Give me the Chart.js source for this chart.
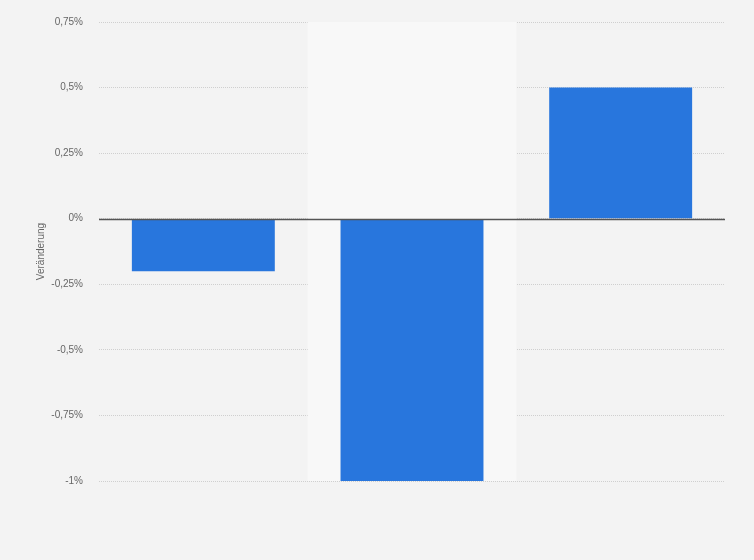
<!DOCTYPE html>
<html>
<head>
<meta charset="utf-8">
<script src="https://cdn.jsdelivr.net/npm/chart.js@4"></script>
<style>
  html, body { margin: 0; padding: 0; background: #f3f3f3; }
  #wrap { width: 754px; height: 560px; }
</style>
</head>
<body>
<div id="wrap"><canvas id="chart"></canvas></div>
<script>
const categories = ['A', 'B', 'C'];
const changes = [-0.2, -1, 0.5];
const yTicks = [0.75, 0.5, 0.25, 0, -0.25, -0.5, -0.75, -1];

function fmtPct(v) {
  return String(v).replace('.', ',') + '%';
}

// light band behind the middle category
const bandPlugin = {
  id: 'band',
  beforeDatasetsDraw(chart) {
    const { ctx, chartArea, scales } = chart;
    const x = scales.x;
    const w = (chartArea.right - chartArea.left) / categories.length;
    const cx = x.getPixelForValue(1);
    ctx.save();
    ctx.fillStyle = '#f8f8f8';
    ctx.fillRect(cx - w / 2, chartArea.top, w, chartArea.bottom - chartArea.top);
    ctx.restore();
  }
};

// solid zero line over the dotted grid
const zeroPlugin = {
  id: 'zero',
  afterDatasetsDraw(chart) {
    const { ctx, chartArea, scales } = chart;
    const y = Math.round(scales.y.getPixelForValue(0)) + 0.5;
    ctx.save();
    ctx.strokeStyle = '#555';
    ctx.lineWidth = 1.3;
    ctx.beginPath();
    ctx.moveTo(chartArea.left, y);
    ctx.lineTo(chartArea.right, y);
    ctx.stroke();
    ctx.restore();
  }
};

new Chart(document.getElementById('chart'), {
  type: 'bar',
  data: {
    labels: categories,
    datasets: [{
      data: changes,
      backgroundColor: '#2876dd',
      borderWidth: 0,
      categoryPercentage: 1,
      barPercentage: 0.685
    }]
  },
  options: {
    responsive: true,
    maintainAspectRatio: false,
    animation: false,
    layout: { padding: { top: 18, right: 29, bottom: 79, left: 0 } },
    plugins: {
      legend: { display: false },
      tooltip: { enabled: false }
    },
    scales: {
      x: {
        display: false,
        grid: { display: false }
      },
      y: {
        min: -1,
        max: 0.75,
        afterBuildTicks(scale) {
          scale.ticks = yTicks.map(v => ({ value: v }));
        },
        afterFit(scale) { scale.width = 99; },
        border: { display: false, dash: [1, 1] },
        grid: {
          color: '#cfcfcf',
          drawTicks: false,
          lineWidth: 1
        },
        ticks: {
          padding: 16,
          color: '#666',
          font: { family: 'Liberation Sans, Arial, sans-serif', size: 10 },
          callback: v => fmtPct(v)
        },
        title: {
          display: true,
          text: 'Veränderung',
          color: '#666',
          font: { family: 'Liberation Sans, Arial, sans-serif', size: 10 },
          padding: { top: 35, bottom: 0 }
        }
      }
    }
  },
  plugins: [bandPlugin, zeroPlugin]
});
</script>
</body>
</html>
